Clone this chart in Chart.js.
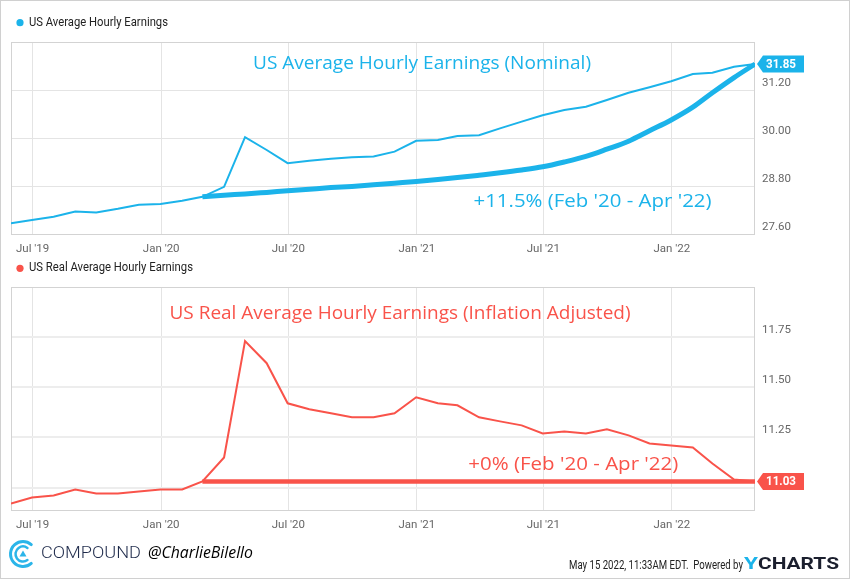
<!DOCTYPE html>
<html>
<head>
<meta charset="utf-8">
<script src="https://cdn.jsdelivr.net/npm/chart.js@4/dist/chart.umd.min.js"></script>
<style>
html, body { margin:0; padding:0; background:#fff; }
canvas { position:absolute; left:0; }
#frame { position:absolute; left:0; top:0; width:850px; height:579px; box-sizing:border-box; border:1px solid #d0d0d0; pointer-events:none; }
</style>
</head>
<body>
<canvas id="nominalChart" width="850" height="255" style="top:0;width:850px;height:255px"></canvas>
<canvas id="realChart" width="850" height="280" style="top:255px;width:850px;height:280px"></canvas>
<canvas id="footer" width="850" height="44" style="top:535px;width:850px;height:44px"></canvas>
<div id="frame"></div>
<script>
// month-end observations, May 2019 .. Apr 2022
var months = ['2019-05-31','2019-06-30','2019-07-31','2019-08-31','2019-09-30','2019-10-31','2019-11-30','2019-12-31',
  '2020-01-31','2020-02-29','2020-03-31','2020-04-30','2020-05-31','2020-06-30','2020-07-31','2020-08-31','2020-09-30','2020-10-31','2020-11-30','2020-12-31',
  '2021-01-31','2021-02-28','2021-03-31','2021-04-30','2021-05-31','2021-06-30','2021-07-31','2021-08-31','2021-09-30','2021-10-31','2021-11-30','2021-12-31',
  '2022-01-31','2022-02-28','2022-03-31','2022-04-30'];
var nominal = [27.87,27.95,28.03,28.16,28.14,28.23,28.33,28.35,
  28.43,28.53,28.78,30.02,29.70,29.37,29.43,29.48,29.52,29.54,29.66,29.93,
  29.95,30.05,30.07,30.24,30.41,30.57,30.70,30.78,30.95,31.13,31.27,31.42,
  31.60,31.63,31.78,31.85];
var real = [10.92,10.95,10.96,10.99,10.97,10.97,10.98,10.99,
  10.99,11.03,11.15,11.73,11.62,11.42,11.39,11.37,11.35,11.35,11.37,11.45,
  11.42,11.41,11.35,11.33,11.31,11.27,11.28,11.27,11.29,11.26,11.22,11.21,
  11.20,11.12,11.04,11.03];
// hand drawn growth curve, Feb '20 .. Apr '22
var trendMonths = months.slice(9);
var nominalTrend = [28.53,28.57,28.60,28.64,28.68,28.72,28.76,28.79,28.83,28.87,28.91,
  28.96,29.01,29.07,29.13,29.20,29.28,29.40,29.54,29.72,29.92,30.18,30.45,
  30.77,31.13,31.51,31.85];
var flatMonths = ['2020-02-29','2022-04-30'];
var realFlat = [11.03, 11.03];

var xTickDates = ['2019-07-01','2020-01-01','2020-07-01','2021-01-01','2021-07-01','2022-01-01'];
var xTickLabels = ["Jul '19","Jan '20","Jul '20","Jan '21","Jul '21","Jan '22"];
var nominalTicks = [27.6, 28.8, 30.0, 31.2];
var realTicks = [11.0, 11.25, 11.5, 11.75];

var CYAN = '#1bb3ea', RED = '#f9534a';
var HAND = '"Comic Sans MS", "Segoe Print", "Open Sans", sans-serif';

function day(s){ return Date.parse(s + 'T00:00:00Z') / 864e5; }
function pts(ds, vs){ return ds.map(function(d, i){ return {x: day(d), y: vs[i]}; }); }

// text squeezed/stretched to a given width
function fitText(ctx, text, x, y, w, font, color, align){
  ctx.save();
  ctx.font = font;
  var m = ctx.measureText(text).width;
  ctx.translate(x, y);
  ctx.scale(w / m, 1);
  ctx.fillStyle = color;
  ctx.textAlign = align || 'center';
  ctx.textBaseline = 'middle';
  ctx.fillText(text, 0, 0);
  ctx.restore();
}

var deco = {
  id: 'deco',
  beforeDatasetsDraw: function(chart){
    var a = chart.chartArea, ctx = chart.ctx;
    ctx.save();
    ctx.strokeStyle = '#d3d3d3';
    ctx.lineWidth = 1;
    ctx.strokeRect(a.left + 0.5, a.top + 0.5, a.right - a.left - 1, a.bottom - a.top);
    ctx.restore();
  },
  afterDraw: function(chart, args, o){
    var ctx = chart.ctx;
    // legend
    ctx.save();
    ctx.fillStyle = o.color;
    ctx.beginPath(); ctx.arc(20, o.legendY, 3.6, 0, Math.PI * 2); ctx.fill();
    ctx.restore();
    fitText(ctx, o.legend, 29, o.legendY, o.legendW, '12.5px Roboto', '#222', 'left');
    // notes
    o.notes.forEach(function(n){
      fitText(ctx, n.text, n.cx, n.cy, n.w, n.size + 'px ' + HAND, o.color);
    });
    // last value badge
    var d = chart.data.datasets[0].data;
    var last = d[d.length - 1].y;
    var y = chart.scales.y.getPixelForValue(last);
    var x0 = chart.chartArea.right + 2;
    ctx.save();
    ctx.fillStyle = o.color;
    ctx.beginPath();
    ctx.moveTo(x0, y);
    ctx.lineTo(x0 + 6, y - 8.5);
    ctx.lineTo(x0 + 47, y - 8.5);
    ctx.lineTo(x0 + 47, y + 8.5);
    ctx.lineTo(x0 + 6, y + 8.5);
    ctx.closePath();
    ctx.fill();
    ctx.restore();
    fitText(ctx, last.toFixed(2), x0 + 24, y + 0.5, 30, 'bold 12px Roboto', '#fff');
  }
};

function makeChart(id, cfg){
  return new Chart(document.getElementById(id), {
    type: 'line',
    data: {
      datasets: [
        { data: cfg.main, borderColor: cfg.color, borderWidth: 2, pointRadius: 0, tension: 0, order: 2 },
        { data: cfg.trend, borderColor: cfg.color, borderWidth: cfg.trendWidth, pointRadius: 0,
          cubicInterpolationMode: 'monotone', borderCapStyle: 'butt', order: 1 }
      ]
    },
    options: {
      responsive: false,
      animation: false,
      events: [],
      layout: { padding: { top: cfg.padTop, left: 11, right: 0, bottom: 0 } },
      plugins: {
        legend: { display: false },
        tooltip: { enabled: false },
        deco: cfg.deco
      },
      scales: {
        x: {
          type: 'linear',
          min: day(months[0]),
          max: day(months[months.length - 1]),
          afterBuildTicks: function(s){ s.ticks = xTickDates.map(function(d){ return {value: day(d)}; }); },
          afterFit: function(s){ s.height = cfg.xHeight; },
          grid: { color: '#e4e4e4', drawTicks: false },
          border: { display: false },
          ticks: {
            autoSkip: false, maxRotation: 0, padding: 8,
            color: '#666', font: { family: 'Roboto', size: 11.5 },
            callback: function(v, i){ return xTickLabels[i]; }
          }
        },
        y: {
          position: 'right',
          min: cfg.yMin,
          max: cfg.yMax,
          afterBuildTicks: function(s){ s.ticks = cfg.ticks.map(function(v){ return {value: v}; }); },
          afterFit: function(s){ s.width = 95; },
          grid: { color: cfg.gridColor, lineWidth: cfg.gridWidth, drawTicks: false },
          border: { display: false },
          ticks: {
            padding: 7, labelOffset: -7,
            color: '#666', font: { family: 'Roboto', size: 11.5 },
            callback: function(v){ return Number(v).toFixed(2); }
          }
        }
      }
    },
    plugins: [deco]
  });
}

makeChart('nominalChart', {
  main: pts(months, nominal),
  trend: pts(trendMonths, nominalTrend),
  trendWidth: 5,
  color: CYAN,
  padTop: 42, xHeight: 21,
  yMin: 27.6, yMax: 32.4, ticks: nominalTicks,
  gridColor: '#e4e4e4', gridWidth: 1,
  deco: {
    color: CYAN, legend: 'US Average Hourly Earnings', legendY: 22.7, legendW: 139,
    notes: [
      { text: 'US Average Hourly Earnings (Nominal)', cx: 422, cy: 63.5, w: 338, size: 19 },
      { text: "+11.5% (Feb '20 - Apr '22)", cx: 592.5, cy: 202, w: 238, size: 19 }
    ]
  }
});

makeChart('realChart', {
  main: pts(months, real),
  trend: pts(flatMonths, realFlat),
  trendWidth: 4.5,
  color: RED,
  padTop: 32, xHeight: 25,
  yMin: 10.888, yMax: 12.0, ticks: realTicks,
  gridColor: '#ededed', gridWidth: 2,
  deco: {
    color: RED, legend: 'US Real Average Hourly Earnings', legendY: 13.3, legendW: 164,
    notes: [
      { text: 'US Real Average Hourly Earnings (Inflation Adjusted)', cx: 400, cy: 58.3, w: 461, size: 19 },
      { text: "+0% (Feb '20 - Apr '22)", cx: 573.3, cy: 210, w: 210, size: 19 }
    ]
  }
});

// footer: logo, handle, timestamp
(function(){
  var ctx = document.getElementById('footer').getContext('2d');
  var cx = 23, cy = 19;
  ctx.strokeStyle = '#2bb5e9';
  ctx.lineCap = 'round';
  ctx.lineWidth = 3;
  ctx.beginPath(); ctx.arc(cx, cy, 12.5, Math.PI * 0.27, Math.PI * 1.73); ctx.stroke();
  ctx.lineWidth = 2.5;
  ctx.beginPath(); ctx.arc(cx, cy, 7.5, Math.PI * 0.3, Math.PI * 1.7); ctx.stroke();
  ctx.fillStyle = '#2bb5e9';
  ctx.beginPath(); ctx.moveTo(cx, cy - 3.5); ctx.lineTo(cx + 3.5, cy + 2.5); ctx.lineTo(cx - 3.5, cy + 2.5); ctx.closePath(); ctx.fill();

  fitText(ctx, 'COMPOUND', 41, 19, 100, '300 16px Roboto', '#1f2b4b', 'left');
  fitText(ctx, '@CharlieBilello', 148, 18.5, 105, 'italic 16px ' + HAND, '#000', 'left');
  fitText(ctx, 'May 15 2022, 11:33AM EDT.  Powered by', 569, 31, 174, '12px Roboto', '#222', 'left');
  fitText(ctx, 'Y', 744, 30, 14, 'bold 17px Roboto', '#1bb3ea', 'left');
  fitText(ctx, 'CHARTS', 758, 30, 81, 'bold 17px Roboto', '#1b1f2e', 'left');
})();
</script>
</body>
</html>
